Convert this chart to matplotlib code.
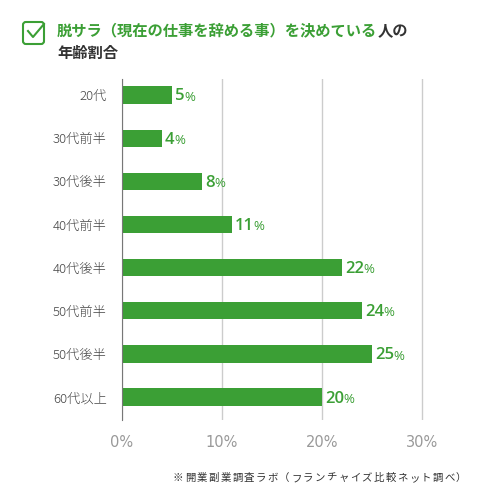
import matplotlib
matplotlib.use("Agg")
import matplotlib.pyplot as plt
from matplotlib.patches import FancyBboxPatch
from matplotlib.lines import Line2D

plt.rcParams['font.family'] = ['Noto Sans CJK JP', 'DejaVu Sans']

categories = ['20代', '30代前半', '30代後半', '40代前半', '40代後半', '50代前半', '50代後半', '60代以上']
values = [5, 4, 8, 11, 22, 24, 25, 20]
xticks = [0, 10, 20, 30]
xtick_labels = ['0%', '10%', '20%', '30%']
title_green = '脱サラ（現在の仕事を辞める事）を決めている'
title_dark = '人の'
title_line2 = '年齢割合'
source = '※開業副業調査ラボ（フランチャイズ比較ネット調べ）'

GREEN = '#3b9f35'
DARK = '#333333'
W, H = 479, 491

fig = plt.figure(figsize=(W / 100, H / 100), dpi=100)
# axes in pixel coordinates: x 122..424, y 79..420
ax = fig.add_axes([122 / W, 1 - 420 / H, 302 / W, (420 - 79) / H])

ypos = list(range(len(categories)))
ax.barh(ypos, values, height=0.4, color=GREEN, zorder=3)
ax.set_xlim(0, 30.2)
ax.set_ylim(7.53, -0.37)
ax.set_xticks(xticks)
ax.set_xticklabels(xtick_labels, fontsize=10.5, color='#999999', family='DejaVu Sans')
ax.set_yticks(ypos)
ax.set_yticklabels(categories, fontsize=9.5, color='#444444', fontweight='light')
ax.tick_params(axis='both', length=0)
ax.tick_params(axis='x', pad=11)
ax.tick_params(axis='y', pad=11)
ax.xaxis.grid(True, color='#cccccc', linewidth=1)
for s in ['top', 'right', 'bottom']:
    ax.spines[s].set_visible(False)
ax.spines['left'].set_color('#777777')
ax.spines['left'].set_zorder(4)

fig.canvas.draw()
r = fig.canvas.get_renderer()
inv = ax.transData

# value labels: number bigger, % smaller
for y, v in zip(ypos, values):
    t = ax.annotate(str(v), (v, y), xytext=(2, -1), textcoords='offset points',
                    ha='left', va='center', fontsize=12, color=GREEN,
                    fontweight=600, family='Open Sans')
    bb = t.get_window_extent(r)
    xd, _ = inv.inverted().transform((bb.x1, 0))
    ax.annotate('%', (xd, y), xytext=(0, -1.5), textcoords='offset points',
                ha='left', va='center', fontsize=9.5, color=GREEN,
                family='Open Sans')

# title
t1 = fig.text(57 / W, 1 - 30 / H, title_green, fontsize=11, color=GREEN,
              fontweight='bold', va='center', ha='left')
bb = t1.get_window_extent(r)
fig.text(bb.x1 / W, 1 - 30 / H, title_dark, fontsize=11, color=DARK,
         fontweight='bold', va='center', ha='left')
fig.text(57 / W, 1 - 53 / H, title_line2, fontsize=11, color=DARK,
         fontweight='bold', va='center', ha='left')

# check box icon
box = FancyBboxPatch((23 / W, 1 - 44 / H), 21 / W, 22 / H,
                     boxstyle='round,pad=0,rounding_size=0.006',
                     transform=fig.transFigure, fill=False,
                     edgecolor=GREEN, linewidth=1.5)
fig.patches.append(box)
fig.lines.append(Line2D([28 / W, 33 / W, 44 / W], [1 - 31 / H, 1 - 37 / H, 1 - 24 / H],
                        transform=fig.transFigure, color=GREEN, linewidth=1.5))

# source note with letter spacing, right edge near x=463
x = 173.0
for ch in source:
    t = fig.text(x / W, 1 - 478 / H, ch, fontsize=7.5, color=DARK,
                 va='center', ha='left')
    x += t.get_window_extent(r).width + 1.4

fig.savefig('out.png', dpi=100)
